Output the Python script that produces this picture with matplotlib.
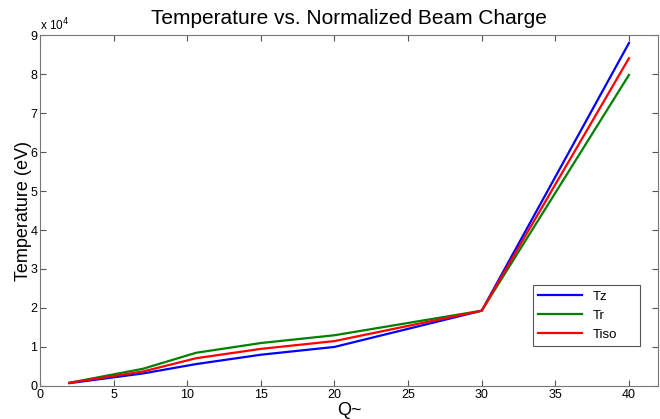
import matplotlib.pyplot as plt
from matplotlib.ticker import FuncFormatter

plt.rcParams['font.family'] = ['Liberation Sans', 'DejaVu Sans']

q = [2, 7, 10.6, 15, 20, 30, 40]
tz = [700, 3200, 5600, 8000, 10000, 19300, 88000]
tr = [800, 4400, 8500, 11000, 13000, 19300, 79800]
tiso = [800, 3700, 7100, 9500, 11500, 19300, 84100]

fig = plt.figure(figsize=(6.6, 4.19), dpi=100)
ax = fig.add_axes([0.0606, 0.079, 0.937, 0.837])

ax.plot(q, tz, color="blue", lw=1.6, label="Tz")
ax.plot(q, tr, color="green", lw=1.6, label="Tr")
ax.plot(q, tiso, color="red", lw=1.6, label="Tiso")

ax.set_xlim(0, 42)
ax.set_ylim(0, 90000)
ax.set_xticks(range(0, 41, 5))
ax.set_yticks(range(0, 90001, 10000))
ax.yaxis.set_major_formatter(FuncFormatter(lambda v, p: f"{v / 1e4:g}"))
ax.tick_params(direction="in", length=4, color="#555555", labelsize=9,
               top=True, right=True, pad=2)
for s in ax.spines.values():
    s.set_color("#777777")

ax.text(0.0, 1.005, r"x 10$^4$", transform=ax.transAxes, fontsize=8.5,
        ha="left", va="bottom")

ax.set_title("Temperature vs. Normalized Beam Charge", fontsize=15, pad=8)
ax.set_ylabel("Temperature (eV)", fontsize=13, labelpad=-1)
ax.set_xlabel("Q~", fontsize=13, labelpad=1)

leg = ax.legend(loc="lower left", bbox_to_anchor=(0.797, 0.114, 0.174, 0.17),
                mode="expand", fancybox=False, fontsize=9.5, handlelength=3.3,
                borderaxespad=0, framealpha=1)
leg.get_frame().set_edgecolor("#555555")
leg.get_frame().set_linewidth(0.8)

fig.savefig("out.png", dpi=100)
